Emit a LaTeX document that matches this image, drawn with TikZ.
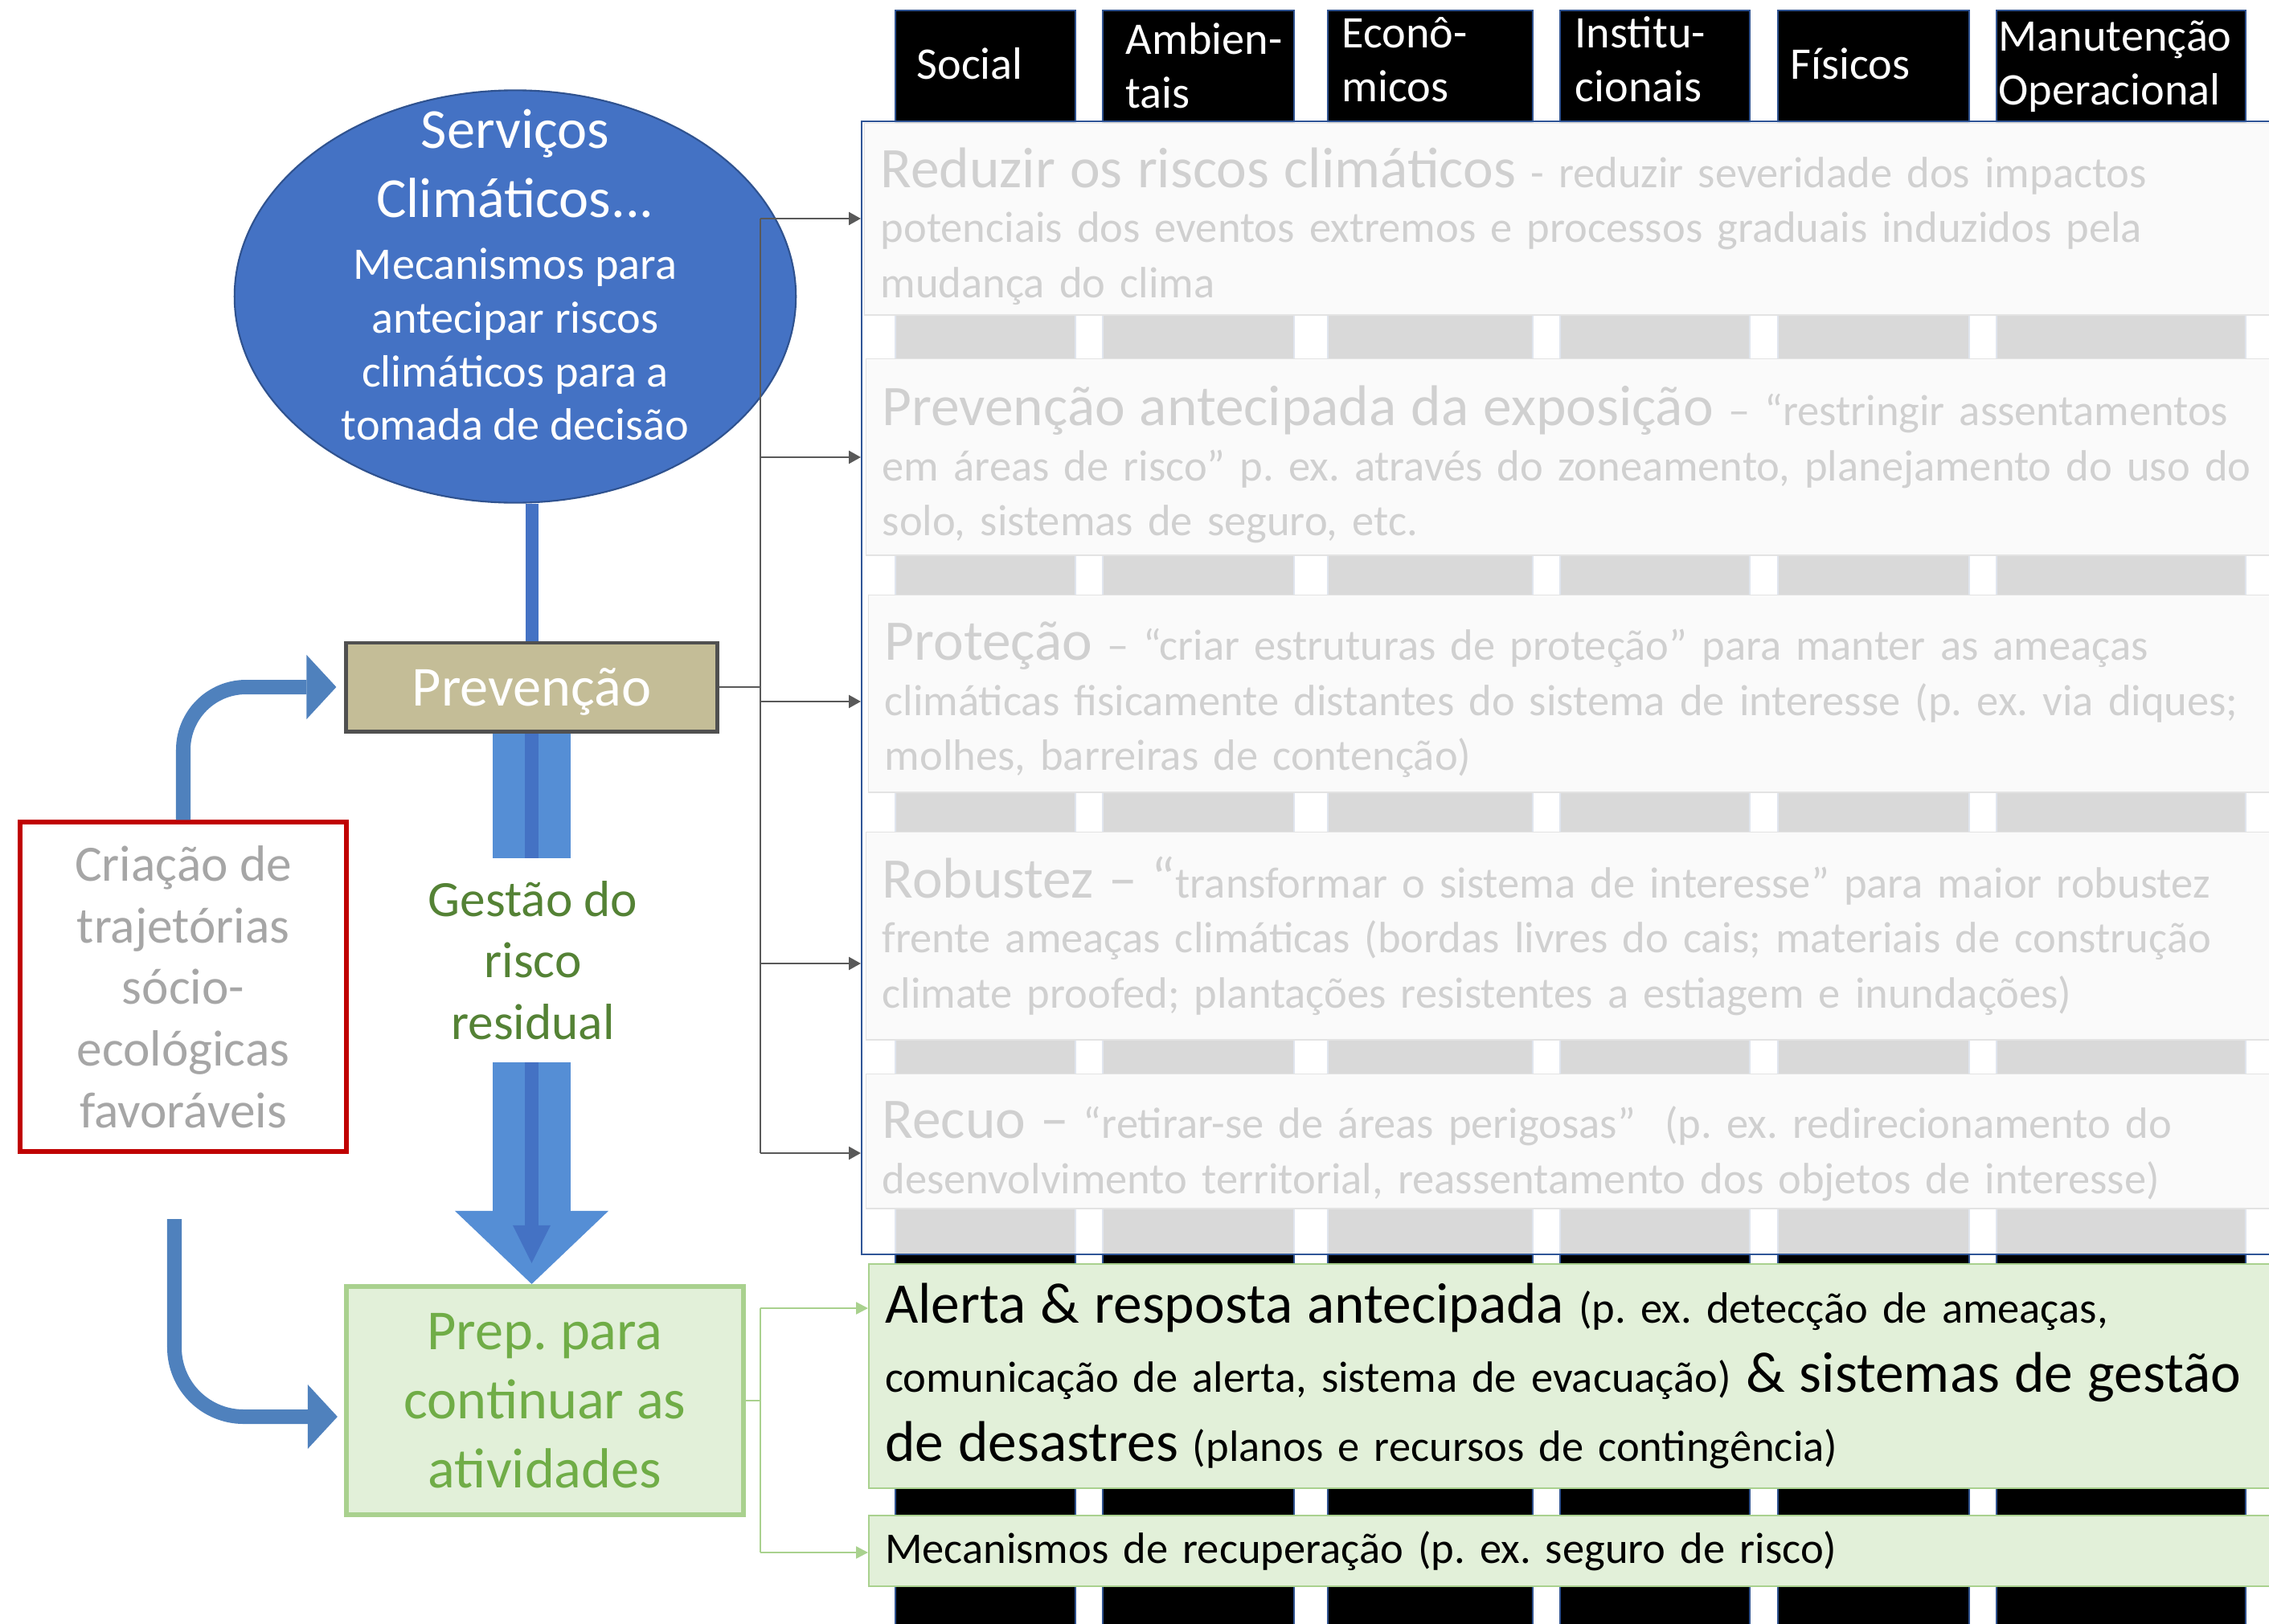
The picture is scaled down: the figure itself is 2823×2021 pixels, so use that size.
\documentclass[tikz,border=0pt]{standalone}
\usepackage{fontspec}
\setmainfont{Carlito}
\usetikzlibrary{shapes.geometric,arrows.meta}

\definecolor{climblue}{HTML}{4472C4}
\definecolor{climedge}{HTML}{2F528F}
\definecolor{prevfill}{HTML}{C4BD97}
\definecolor{prevedge}{HTML}{505050}
\definecolor{bandblue}{HTML}{558ED5}
\definecolor{curveblue}{HTML}{4F81BD}
\definecolor{trajred}{HTML}{C00000}
\definecolor{trajtext}{HTML}{A6A6A6}
\definecolor{residgreen}{HTML}{548235}
\definecolor{prepfill}{HTML}{E2F0D9}
\definecolor{prepedge}{HTML}{A9D18E}
\definecolor{preptext}{HTML}{70AD47}
\definecolor{connline}{HTML}{595959}
\definecolor{optfill}{HTML}{FAFAFA}
\definecolor{optedge}{HTML}{E3E3E3}
\definecolor{opttext}{HTML}{D0D0D0}
\definecolor{frameblue}{HTML}{2F5597}

\newcommand{\optlead}[1]{{\fontsize{20.3}{20}\selectfont #1}}

\tikzset{
  colbar/.style={fill=black, draw=climedge, line width=0.4pt},
  hdr/.style={text=white, anchor=west, align=left, inner sep=0pt,
    font=\fontsize{16}{19}\selectfont},
  optbox/.style={draw=optedge, fill=optfill, line width=0.4pt, anchor=north west,
    align=left, text=opttext, inner xsep=0.2cm, inner ysep=0pt, text width=17.4cm,
    font=\fontsize{15.5}{19.5}\selectfont},
  actbox/.style={optbox, draw=prepedge, fill=prepfill, line width=0.6pt, text=black},
  conn/.style={connline, line width=0.7pt},
  connarrow/.style={conn, -{Triangle[length=0.15cm, width=0.16cm]}},
  greenarrow/.style={prepedge, line width=0.7pt, -{Triangle[length=0.15cm, width=0.15cm]}},
  curvearrow/.style={curveblue, line width=0.18cm,
    -{Triangle[length=0.37cm, width=0.80cm, line width=0pt]}},
}

\begin{document}
\frenchspacing
\begin{tikzpicture}[x=0.01cm, y=-0.01cm]
\useasboundingbox (0,0) rectangle (2823,2021);
\fill[white] (0,0) rectangle (2823,2021);
\clip (0,0) rectangle (2823,2021);

% columns
\foreach \xl/\xr in {1114/1338,1372/1610,1652/1907,1941/2177,2212/2450,2484/2794}
  \draw[colbar] (\xl,13) rectangle (\xr,2040);

\node[hdr] (hsoc) at (1140,79) {Social};
\node[hdr] (hamb) at (1400,82) {Ambien-\\tais};
\node[hdr] (heco) at (1669,74) {Econô-\\micos};
\node[hdr] (hins) at (1959,74) {Institu-\\cionais};
\node[hdr] (hfis) at (2227,79) {Físicos};
\node[hdr] (hman) at (2486,83) {Manutenção\\Operacional};

% prevention options
\node[draw=frameblue, fill=white, fill opacity=0.85, line width=0.6pt, anchor=north west,
  minimum width=18.5cm, minimum height=14.09cm, inner sep=0pt] (frame) at (1071,150) {};

\node[optbox, minimum height=2.38cm] (reduce) at (1075,153)
  {\rule{0pt}{19pt}\optlead{Reduzir os riscos climáticos} - reduzir severidade dos impactos\\
   potenciais dos eventos extremos e processos graduais induzidos pela\\
   mudança do clima};
\node[optbox, minimum height=2.44cm] (expo) at (1077,446)
  {\rule{0pt}{19.5pt}\optlead{Prevenção antecipada da exposição} – “restringir assentamentos\\
   em áreas de risco” p. ex. através do zoneamento, planejamento do uso do\\
   solo, sistemas de seguro, etc.};
\node[optbox, minimum height=2.45cm] (protect) at (1080,740)
  {\rule{0pt}{18pt}\optlead{Proteção} – “criar estruturas de proteção” para manter as ameaças\\
   climáticas fisicamente distantes do sistema de interesse (p. ex. via diques;\\
   molhes, barreiras de contenção)};
\node[optbox, minimum height=2.58cm] (robust) at (1077,1035)
  {\optlead{Robustez – “}transformar o sistema de interesse” para maior robustez\\
   frente ameaças climáticas (bordas livres do cais; materiais de construção\\
   climate proofed; plantações resistentes a estiagem e inundações)};
\node[optbox, minimum height=1.67cm] (retreat) at (1077,1336)
  {\rule{0pt}{20pt}\optlead{Recuo –} “retirar-se de áreas perigosas”~ (p. ex. redirecionamento do\\
   desenvolvimento territorial, reassentamento dos objetos de interesse)};

% preparedness options
\node[actbox, minimum height=2.79cm, font=\fontsize{15.5}{24.5}\selectfont] (alert) at (1080,1572)
  {\optlead{Alerta \& resposta antecipada} (p. ex. detecção de ameaças,\\
   comunicação de alerta, sistema de evacuação) \optlead{\& sistemas de gestão}\\
   \optlead{de desastres} (planos e recursos de contingência)};
\node[actbox, minimum height=0.88cm] (recov) at (1080,1885)
  {Mecanismos de recuperação (p. ex. seguro de risco)};

% left column
\node[ellipse, draw=climedge, fill=climblue, line width=0.6pt, inner sep=0pt,
  minimum width=6.98cm, minimum height=5.13cm] (clim) at (641,369) {};
\node[text=white, align=center, font=\fontsize{16}{19}\selectfont] (climtxt) at (641,342)
  {{\fontsize{20}{24}\selectfont Serviços}\\[5.5pt]
   {\fontsize{20}{24}\selectfont Climáticos...}\\[3pt]
   Mecanismos para\\ antecipar riscos\\ climáticos para a\\ tomada de decisão};

\node[draw=prevedge, fill=prevfill, line width=1.4pt, minimum width=4.61cm, text depth=0pt,
  minimum height=1.10cm, text=white, font=\fontsize{20}{24}\selectfont] (prev) at (661.5,855) {Prevenção};

\node[draw=trajred, line width=1.7pt, minimum width=4.06cm, minimum height=4.09cm,
  text=trajtext, align=center, font=\fontsize{18}{21.8}\selectfont] (traj) at (228,1228)
  {Criação de\\trajetórias\\sócio-\\ecológicas\\favoráveis};

\node[draw=prepedge, fill=prepfill, line width=1.7pt, minimum width=4.94cm,
  minimum height=2.84cm, text=preptext, align=center, font=\fontsize{20}{24.5}\selectfont] (prep) at (678,1743)
  {Prep. para\\continuar as\\atividades};

% blue arrows
\coordinate (bandtip) at ([yshift=-6.59cm]prev.south);
\coordinate (lowstart) at (217,1517);
\draw[climblue, line width=0.16cm] (prev.north |- clim.south) -- (prev.north);
\draw[bandblue, line width=0.96cm, -{Triangle[length=0.91cm, width=1.91cm, line width=0pt]}]
  (prev.south) -- (prev.south |- prep.north);
\draw[climblue, line width=0.17cm, -{Triangle[length=0.47cm, width=0.47cm, line width=0pt]}]
  (prev.south) -- (bandtip);
\draw[curvearrow, rounded corners=0.78cm, shorten >=0.1cm] (traj.north) |- (prev.west);
\draw[curvearrow, rounded corners=0.86cm, shorten >=0.08cm] (lowstart) |- ([yshift=-0.2cm]prep.west);

\node[fill=white, align=center, text=residgreen, inner sep=0pt, minimum width=1.2cm,
  minimum height=2.54cm, font=\fontsize{18}{21.8}\selectfont] (resid) at (663,1195)
  {Gestão do\\risco\\residual};

% connectors
\coordinate (b1) at (946,272);
\coordinate (b2) at (946,569);
\coordinate (b3) at (946,873);
\coordinate (b4) at (946,1199);
\coordinate (b5) at (946,1435);
\draw[conn] (b1) -- (b5);
\draw[conn] (prev.east) -- (prev.east -| b1);
\foreach \b in {b1,b2,b3,b4,b5}
  \draw[connarrow] (\b) -- (\b -| frame.west);

\coordinate (g1) at (946,1628);
\coordinate (g2) at (946,1932);
\draw[prepedge, line width=0.7pt] (prep.east) -- (prep.east -| g1);
\draw[prepedge, line width=0.7pt] (g1) -- (g2);
\draw[greenarrow] (g1) -- (g1 -| alert.west);
\draw[greenarrow] (g2) -- (g2 -| recov.west);
\end{tikzpicture}
\end{document}
